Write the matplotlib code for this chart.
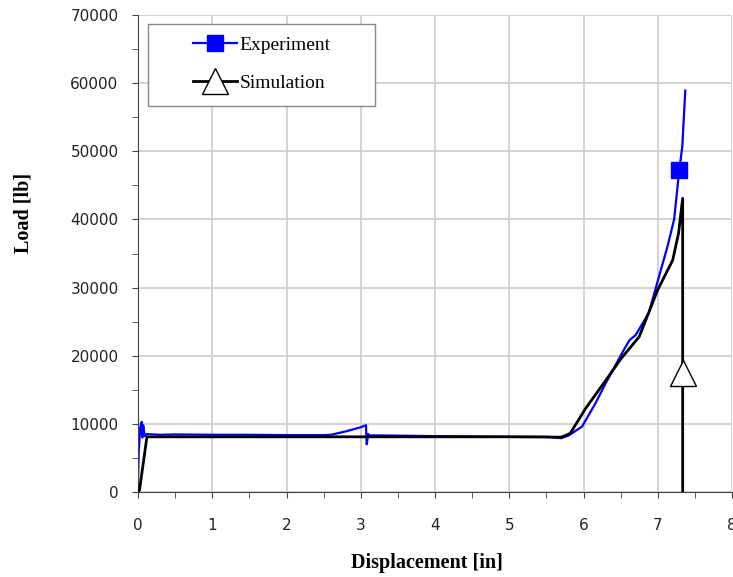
import matplotlib
matplotlib.use('Agg')
import matplotlib.pyplot as plt
from matplotlib.ticker import MultipleLocator
from matplotlib.patches import Rectangle

# experiment (blue) curve
exp_x = [0, 0.01, 0.03, 0.05, 0.06, 0.07, 0.09, 0.12, 0.3, 0.5, 1.0, 1.5, 2.0, 2.5, 2.6,
         2.8, 3.0, 3.07, 3.08, 3.1, 3.12, 3.3, 4.0, 5.0, 5.5, 5.7, 5.8, 5.98, 6.16, 6.3, 6.43,
         6.55, 6.62, 6.7, 6.88, 7.0, 7.13, 7.22, 7.29, 7.33, 7.37]
exp_y = [1800, 6000, 9500, 10300, 8000, 9800, 8200, 8500, 8400, 8450, 8400, 8400, 8350, 8350, 8400,
         8900, 9500, 9800, 7000, 8500, 8300, 8300, 8200, 8100, 8100, 7900, 8300, 9600, 13000, 16000,
         18600, 21000, 22300, 23000, 26300, 31000, 36000, 40000, 47300, 50700, 58900]
exp_mark = [38]

# simulation (black) curve
sim_x = [0, 0.02, 0.12, 1, 2, 3, 4, 5, 5.7, 5.82, 6.03, 6.3, 6.5, 6.75, 7.0, 7.2, 7.28,
         7.335, 7.335, 7.335]
sim_y = [0, 300, 8100, 8100, 8100, 8100, 8100, 8100, 8050, 8600, 12300, 16400, 19500, 22800,
         29700, 34000, 38000, 43100, 17500, 0]
sim_mark = [18]

fig = plt.figure(figsize=(7.33, 5.77), dpi=100)
ax = fig.add_axes([0.1883, 0.1473, 0.8104, 0.8267])

ax.plot(sim_x, sim_y, color='black', lw=2, marker='^', ms=19, mfc='white', mec='black',
        mew=1, markevery=sim_mark, label='Simulation', zorder=3)
ax.plot(exp_x, exp_y, color='#0000ff', lw=1.6, marker='s', ms=12, mfc='#0000ff', mec='#0000ff',
        markevery=exp_mark, label='Experiment', zorder=2)

ax.set_xlim(0, 8)
ax.set_ylim(0, 70000)
ax.xaxis.set_major_locator(MultipleLocator(1))
ax.xaxis.set_minor_locator(MultipleLocator(0.5))
ax.yaxis.set_major_locator(MultipleLocator(10000))
ax.yaxis.set_minor_locator(MultipleLocator(5000))
ax.grid(True, which='major', color='#d0d0d0', lw=1.3)
ax.set_axisbelow(True)
for s in ['top', 'right']:
    ax.spines[s].set_visible(False)
for s in ['left', 'bottom']:
    ax.spines[s].set_color('#444444')
ax.tick_params(which='both', direction='out', length=4, color='#444444', labelsize=11,
               labelcolor='#222222')
ax.tick_params(axis='x', pad=15)
ax.tick_params(axis='y', pad=10)

ax.set_xlabel('Displacement [in]', family='Liberation Serif', fontweight='bold', fontsize=14.5)
ax.set_ylabel('Load [lb]', family='Liberation Serif', fontweight='bold', fontsize=14.5)
ax.xaxis.set_label_coords(0.486, -0.127)
ax.yaxis.set_label_coords(-0.176, 0.585)

# legend box, drawn by hand so its padding matches
ax.add_patch(Rectangle((0.017, 0.809), 0.382, 0.172, transform=ax.transAxes, facecolor='white',
                       edgecolor='#888888', lw=1, zorder=5))
h, l = ax.get_legend_handles_labels()
leg = ax.legend(h[::-1], l[::-1], loc='center', bbox_to_anchor=(0.208, 0.897),
                prop={'family': 'Liberation Serif', 'size': 14}, frameon=False,
                handlelength=2.3, handletextpad=0.1, labelspacing=1.05, borderpad=0)
leg.set_zorder(6)

fig.savefig('out.png', dpi=100)
